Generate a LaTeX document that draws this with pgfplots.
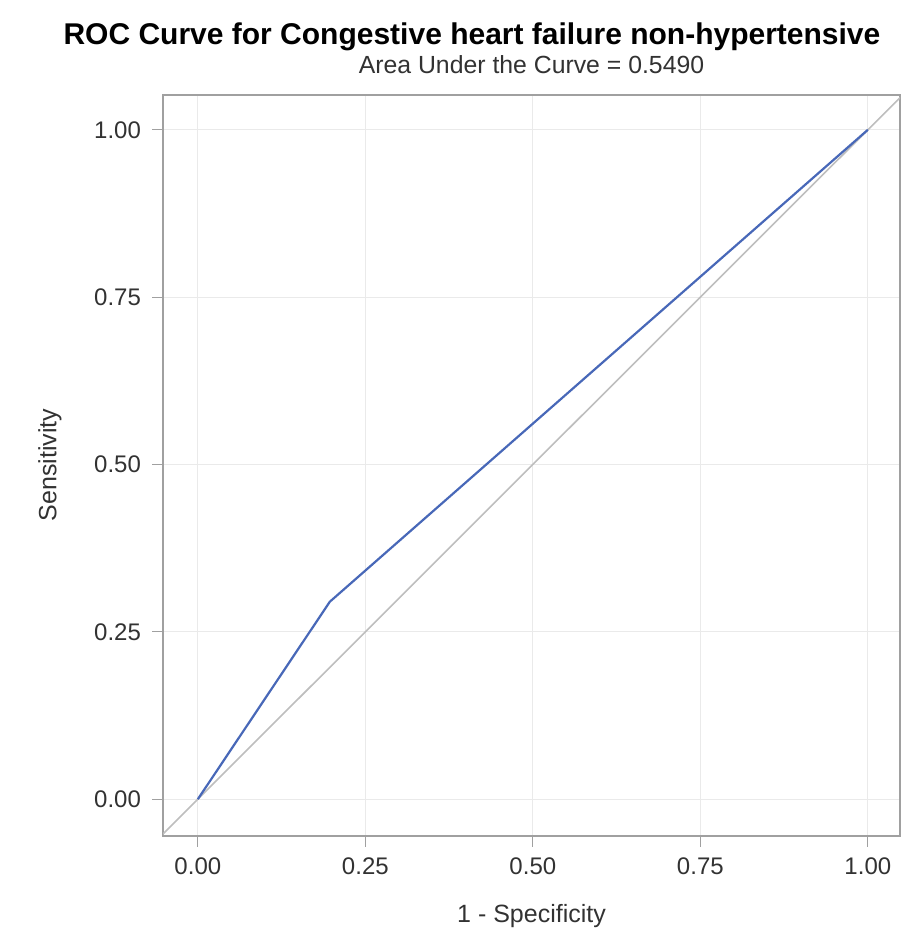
\documentclass[border=0pt]{standalone}
\usepackage{fontspec}
\setmainfont{Liberation Sans}
\usepackage{pgfplots}
\pgfplotsset{compat=1.18}

\definecolor{roc}{RGB}{72,104,184}
\definecolor{diag}{RGB}{190,190,190}
\definecolor{gridc}{RGB}{234,234,234}
\definecolor{framec}{RGB}{160,160,160}
\definecolor{txt}{RGB}{50,50,50}

\begin{document}
\begin{tikzpicture}[x=1pt,y=1pt]
  \begin{axis}[
      at={(81.5pt,48pt)}, anchor=south west,
      scale only axis,
      width=368.5pt, height=370.5pt,
      xmin=-0.052, xmax=1.048,
      ymin=-0.055, ymax=1.052,
      xtick={0,0.25,0.5,0.75,1}, ytick={0,0.25,0.5,0.75,1},
      xticklabels={0.00,0.25,0.50,0.75,1.00},
      yticklabels={0.00,0.25,0.50,0.75,1.00},
      xtick pos=left, ytick pos=left,
      tick align=outside, major tick length=5.5pt,
      tick style={framec, line width=0.6pt},
      grid=major, grid style={gridc, line width=0.6pt},
      axis line style={framec, line width=0.8pt},
      tick label style={font=\fontsize{12}{14}\selectfont, text=txt},
      /pgf/number format/assume math mode=true,
      xticklabel style={yshift=-2pt},
      yticklabel style={xshift=-2pt},
    ]
    % chance line
    \addplot[diag, line width=0.8pt] coordinates {(-0.06,-0.06) (1.06,1.06)};
    % ROC curve
    \addplot[roc, line width=1.1pt] coordinates {(0,0) (0.197,0.295) (1,1)};
  \end{axis}
  \node[anchor=base, font=\fontsize{15}{17}\selectfont\bfseries, text=black] at (236,443.5)
    {ROC Curve for Congestive heart failure non-hypertensive};
  \node[anchor=base, font=\fontsize{12.4}{14}\selectfont, text=txt] at (265.75,429)
    {Area Under the Curve = 0.5490};
  \node[anchor=base, font=\fontsize{12.5}{14}\selectfont, text=txt] at (265.75,5)
    {1 - Specificity};
  \node[rotate=90, font=\fontsize{12.5}{14}\selectfont, text=txt] at (25,233.5)
    {Sensitivity};
  \pgfresetboundingbox
  \path[use as bounding box] (0,0) rectangle (450.5,466);
\end{tikzpicture}
\end{document}
